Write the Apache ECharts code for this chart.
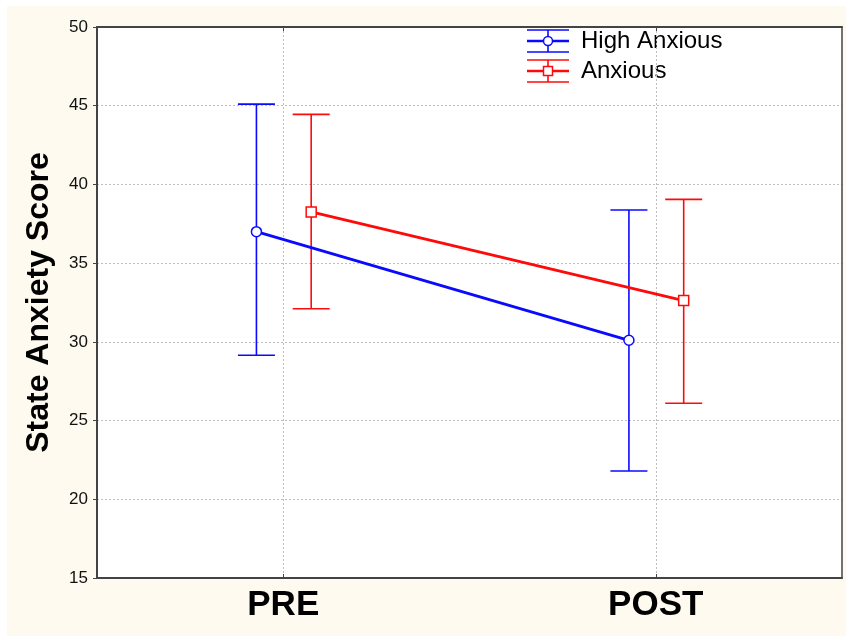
<!DOCTYPE html>
<html>
<head>
<meta charset="utf-8">
<script src="https://cdn.jsdelivr.net/npm/echarts@6/dist/echarts.min.js"></script>
<style>
html,body{margin:0;padding:0;background:#fff;}
#chart{width:846px;height:637px;}
</style>
</head>
<body>
<div id="chart"></div>
<script>
// ---- data ----
var categories = ['PRE', 'POST'];
var seriesNames = ['High Anxious', 'Anxious'];
var highMean = [37.0, 30.1];
var highLow = [29.15, 21.8];
var highHigh = [45.1, 38.38];
var anxMean = [38.25, 32.62];
var anxLow = [32.1, 26.1];
var anxHigh = [44.45, 39.05];
var yTicks = [15, 20, 25, 30, 35, 40, 45, 50];

// ---- style ----
var FONT = "'Liberation Sans', Arial, sans-serif";
var BLUE = '#0a0aff';
var RED = '#ff0a0a';
var offsets = [-0.072, 0.075]; // horizontal dodge (in category units)
var catPos = categories.map(function (c, i) { return i; });

function pts(mean, off) {
  return mean.map(function (v, i) { return [i + off, v]; });
}
function bars(lo, hi, off) {
  return lo.map(function (v, i) { return [i + off, v, hi[i]]; });
}

function errRender(color) {
  return function (params, api) {
    var x = api.value(0);
    var p1 = api.coord([x, api.value(1)]);
    var p2 = api.coord([x, api.value(2)]);
    var hw = 18.5;
    var st = { stroke: color, lineWidth: 1.6 };
    return {
      type: 'group',
      children: [
        { type: 'line', shape: { x1: p1[0], y1: p1[1], x2: p2[0], y2: p2[1] }, style: st },
        { type: 'line', shape: { x1: p1[0] - hw, y1: p1[1], x2: p1[0] + hw, y2: p1[1] }, style: st },
        { type: 'line', shape: { x1: p2[0] - hw, y1: p2[1], x2: p2[0] + hw, y2: p2[1] }, style: st }
      ]
    };
  };
}

function legendItem(y, color, symbol, label) {
  var cx = 548, x1 = 527, x2 = 569;
  var thin = { stroke: color, lineWidth: 1.6 };
  var marker = symbol === 'circle'
    ? { type: 'circle', shape: { cx: cx, cy: y, r: 4.5 }, style: { fill: '#fff', stroke: color, lineWidth: 1.5 } }
    : { type: 'rect', shape: { x: cx - 4.5, y: y - 4.5, width: 9, height: 9 }, style: { fill: '#fff', stroke: color, lineWidth: 1.5 } };
  return {
    type: 'group',
    children: [
      { type: 'line', shape: { x1: x1, y1: y - 11, x2: x2, y2: y - 11 }, style: thin },
      { type: 'line', shape: { x1: x1, y1: y + 11, x2: x2, y2: y + 11 }, style: thin },
      { type: 'line', shape: { x1: cx, y1: y - 11, x2: cx, y2: y + 11 }, style: thin },
      { type: 'line', shape: { x1: x1, y1: y, x2: x2, y2: y }, style: { stroke: color, lineWidth: 2.6 } },
      marker,
      { type: 'text', x: 581, y: y, style: { text: label, fill: '#000', font: '24px ' + FONT, textVerticalAlign: 'middle', textAlign: 'left' } }
    ]
  };
}

var chart = echarts.init(document.getElementById('chart'), null, { renderer: 'canvas' });
var dotted = { show: true, lineStyle: { color: '#bdbdbd', type: [2, 2], width: 1 } };

chart.setOption({
  backgroundColor: '#ffffff',
  animation: false,
  textStyle: { fontFamily: FONT },
  graphic: [
    { type: 'rect', z: -100, silent: true, shape: { x: 7, y: 6, width: 839, height: 630 }, style: { fill: '#fefaf0' } },
    legendItem(41, BLUE, 'circle', seriesNames[0]),
    legendItem(71, RED, 'rect', seriesNames[1])
  ],
  grid: { left: 97, right: 4, top: 27, bottom: 59, show: true, backgroundColor: '#ffffff', borderWidth: 0 },
  xAxis: [
    {
      type: 'value', position: 'bottom', min: -0.5, max: 1.5,
      axisLine: { show: true, onZero: false, lineStyle: { color: '#444', width: 2 } },
      axisTick: { show: true, inside: true, length: 4, customValues: catPos, lineStyle: { color: '#444', width: 1 } },
      splitLine: dotted,
      axisLabel: {
        customValues: catPos,
        margin: 10, color: '#000', fontWeight: 'bold', fontSize: 35, fontFamily: FONT,
        formatter: function (v) { var i = Math.round(v); return categories[i] || ''; }
      }
    },
    {
      type: 'value', position: 'top', min: -0.5, max: 1.5,
      axisLine: { show: true, onZero: false, lineStyle: { color: '#444', width: 2 } },
      axisTick: { show: true, inside: true, length: 4, customValues: catPos, lineStyle: { color: '#444', width: 1 } },
      axisLabel: { show: false }, splitLine: { show: false }
    }
  ],
  yAxis: [
    {
      type: 'value', position: 'left', min: yTicks[0], max: yTicks[yTicks.length - 1], interval: 5,
      name: 'State Anxiety Score', nameLocation: 'middle', nameGap: 42,
      nameTextStyle: { fontSize: 32, fontWeight: 'bold', color: '#000', fontFamily: FONT },
      axisLine: { show: true, onZero: false, lineStyle: { color: '#444', width: 2 } },
      axisTick: { show: true, inside: false, length: 4, lineStyle: { color: '#444', width: 1 } },
      axisLabel: { margin: 9, color: '#111', fontSize: 17, fontFamily: FONT },
      splitLine: dotted
    },
    {
      type: 'value', position: 'right', min: yTicks[0], max: yTicks[yTicks.length - 1], interval: 5,
      axisLine: { show: true, onZero: false, lineStyle: { color: '#444', width: 1.5 } },
      axisTick: { show: false }, axisLabel: { show: false }, splitLine: { show: false }
    }
  ],
  series: [
    { type: 'custom', name: seriesNames[0] + ' err', xAxisIndex: 0, yAxisIndex: 0, z: 2, renderItem: errRender(BLUE), data: bars(highLow, highHigh, offsets[0]) },
    { type: 'custom', name: seriesNames[1] + ' err', xAxisIndex: 0, yAxisIndex: 0, z: 2, renderItem: errRender(RED), data: bars(anxLow, anxHigh, offsets[1]) },
    {
      type: 'line', name: seriesNames[0], xAxisIndex: 0, yAxisIndex: 0, z: 3,
      data: pts(highMean, offsets[0]), symbol: 'circle', symbolSize: 10,
      lineStyle: { color: BLUE, width: 2.8 },
      itemStyle: { color: '#fff', borderColor: BLUE, borderWidth: 1.5 }
    },
    {
      type: 'line', name: seriesNames[1], xAxisIndex: 0, yAxisIndex: 0, z: 3,
      data: pts(anxMean, offsets[1]), symbol: 'rect', symbolSize: 10,
      lineStyle: { color: RED, width: 2.8 },
      itemStyle: { color: '#fff', borderColor: RED, borderWidth: 1.5 }
    }
  ]
});
</script>
</body>
</html>
